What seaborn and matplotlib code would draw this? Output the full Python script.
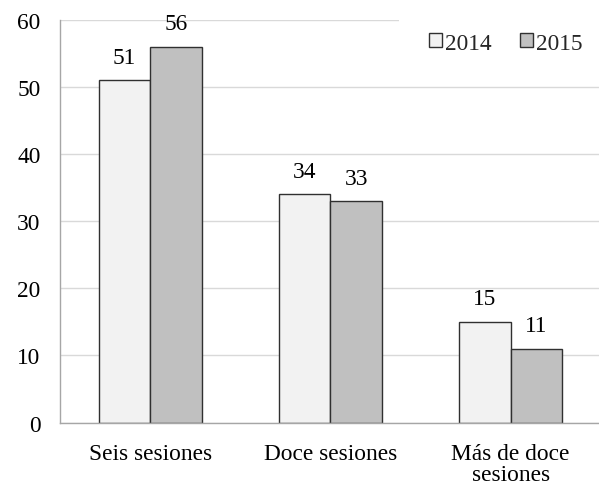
import matplotlib
matplotlib.use("Agg")
import matplotlib.pyplot as plt
from matplotlib.patches import Rectangle
import seaborn as sns
import pandas as pd

categories = ["Seis sesiones", "Doce sesiones", "Más de doce\nsesiones"]
years = ["2014", "2015"]
values_2014 = [51, 34, 15]
values_2015 = [56, 33, 11]
y_ticks = [0, 10, 20, 30, 40, 50, 60]

df = pd.DataFrame({
    "categoria": categories * 2,
    "valor": values_2014 + values_2015,
    "anio": [years[0]] * 3 + [years[1]] * 3,
})

sns.set_theme(style="white")
plt.rcParams["font.family"] = ["Liberation Serif", "DejaVu Serif"]

FS = 16.8

fig = plt.figure(figsize=(5.99, 4.89), dpi=100)
ax = fig.add_axes([60 / 599, 1 - 423.5 / 489, 539 / 599, (423.5 - 21) / 489])

palette = {"2014": "#F2F2F2", "2015": "#C0C0C0"}
sns.barplot(data=df, x="categoria", y="valor", hue="anio", palette=palette,
            edgecolor="#303030", linewidth=1.0, width=0.57, ax=ax,
            saturation=1, legend=True)

ax.set_ylim(0, 60)
ax.set_xlim(-0.5, 2.49)
ax.set_yticks(y_ticks)
ax.yaxis.grid(True, color="#D9D9D9", linewidth=1.0)
ax.set_axisbelow(True)
for side in ["top", "right"]:
    ax.spines[side].set_visible(False)
for side in ["left", "bottom"]:
    ax.spines[side].set_color("#A6A6A6")
    ax.spines[side].set_linewidth(1.0)
ax.tick_params(axis="y", length=0, pad=14, labelsize=FS, colors="#000000")
ax.tick_params(axis="x", length=0, pad=15, labelsize=FS, colors="#000000")
for lbl in ax.get_xticklabels():
    lbl.set_linespacing(0.95)
ax.set_xlabel("")
ax.set_ylabel("")

for container in ax.containers:
    ax.bar_label(container, fmt="%d", padding=9, fontsize=FS, color="#000000")

# white legend area over the top gridline
ax.add_patch(Rectangle(((399 - 60) / 539, 1 - 14 / 402.5), (599 - 399) / 539, 60 / 402.5,
                       transform=ax.transAxes, facecolor="white", edgecolor="none",
                       zorder=2.5, clip_on=False))

leg = ax.legend(loc="center left", bbox_to_anchor=((422 - 60) / 539, 1 - 23 / 402.5),
                ncol=2, frameon=False, fontsize=FS, handlelength=0.55,
                handleheight=0.55, handletextpad=0.15, columnspacing=1.2,
                borderpad=0.3, borderaxespad=0)
leg.set_zorder(3)
for h in leg.legend_handles:
    h.set_edgecolor("#303030")
    h.set_linewidth(1.0)

fig.savefig("out.png", dpi=100, facecolor="white")
